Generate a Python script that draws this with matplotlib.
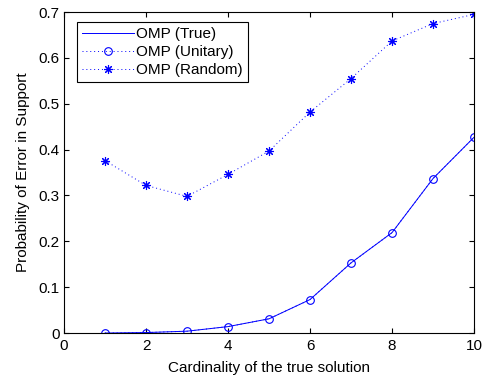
import matplotlib
matplotlib.use("Agg")
import matplotlib.pyplot as plt

plt.rcParams.update({
    "font.family": ["Liberation Sans", "DejaVu Sans"],
    "font.size": 11,
    "xtick.direction": "in",
    "ytick.direction": "in",
    "xtick.top": True,
    "ytick.right": True,
    "xtick.major.pad": 4,
    "ytick.major.pad": 3,
})

cardinality = [1, 2, 3, 4, 5, 6, 7, 8, 9, 10]
err_true = [0.0, 0.001, 0.004, 0.014, 0.031, 0.073, 0.153, 0.219, 0.337, 0.427]
err_unitary = [0.0, 0.001, 0.004, 0.014, 0.031, 0.073, 0.153, 0.219, 0.337, 0.427]
err_random = [0.376, 0.322, 0.298, 0.346, 0.397, 0.482, 0.555, 0.637, 0.675, 0.695]

BLUE = "#0000ff"
DOTS = (0, (1, 3))

fig = plt.figure(figsize=(4.94, 3.78), dpi=100)
ax = fig.add_axes([0.1296, 0.119, 0.83, 0.849])

ax.plot(cardinality, err_true, "-", color=BLUE, linewidth=0.7, label="OMP (True)")
ax.plot(cardinality, err_unitary, linestyle=DOTS, color=BLUE, linewidth=0.7,
        marker="o", markersize=5.5, markerfacecolor="none",
        markeredgewidth=0.8, label="OMP (Unitary)")
ax.plot(cardinality, err_random, linestyle=DOTS, color=BLUE, linewidth=0.7,
        marker=(8, 2, 0), markersize=6.5, markeredgewidth=0.8,
        label="OMP (Random)")

ax.set_xlim(0, 10)
ax.set_ylim(0, 0.7)
ax.set_xticks([0, 2, 4, 6, 8, 10])
ax.set_yticks([0, 0.1, 0.2, 0.3, 0.4, 0.5, 0.6, 0.7])
ax.set_yticklabels(["0", "0.1", "0.2", "0.3", "0.4", "0.5", "0.6", "0.7"])
ax.set_xlabel("Cardinality of the true solution", labelpad=6)
ax.set_ylabel("Probability of Error in Support", labelpad=6)

leg = ax.legend(loc="upper left", bbox_to_anchor=(0.032, 0.969),
                fancybox=False, edgecolor="black", framealpha=1,
                handlelength=3.4, handletextpad=0.1, borderpad=0.35,
                labelspacing=0.25, borderaxespad=0)
leg.get_frame().set_linewidth(0.8)

fig.savefig("out.png", dpi=100)
